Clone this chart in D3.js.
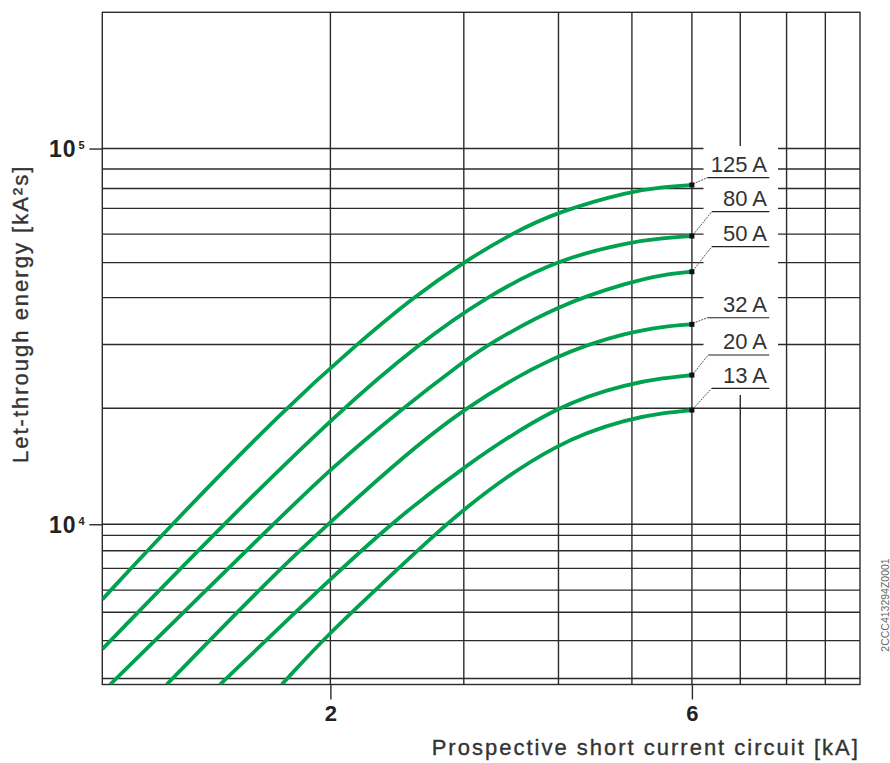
<!DOCTYPE html>
<html>
<head>
<meta charset="utf-8">
<script src="https://cdn.jsdelivr.net/npm/d3@7"></script>
<style>
  html, body { margin: 0; padding: 0; background: #ffffff; }
  svg { display: block; }
</style>
</head>
<body>
<svg id="chart" width="890" height="763"></svg>
<script>
// ---------------- DATA ----------------
const ratings = ["125 A", "80 A", "50 A", "32 A", "20 A", "13 A"];

const current125 = [1.0, 1.235, 1.742, 2.167, 2.573, 2.995, 3.471, 3.991, 4.982, 5.5, 6.0];
const energy125  = [6310, 10000, 20340, 30120, 40180, 49780, 59470, 67880, 77070, 79020, 80000];

const current80 = [1.0, 1.444, 2.07, 2.612, 3.199, 3.998, 4.982, 5.5, 6.0];
const energy80  = [4650, 10000, 20290, 30120, 40180, 50800, 56480, 57800, 58500];

const current50 = [1.024, 1.681, 1.992, 2.484, 2.995, 3.232, 3.998, 4.982, 5.5, 6.0];
const energy50  = [3745, 10000, 13940, 20290, 27080, 30120, 38320, 44200, 46200, 47000];

const current32 = [1.216, 1.725, 1.992, 2.41, 2.981, 3.998, 4.982, 5.5, 6.0];
const energy32  = [3745, 7707, 10055, 14230, 20290, 28610, 32540, 33600, 34050];

const current20 = [1.43, 1.992, 2.397, 2.995, 3.998, 4.982, 5.5, 6.0];
const energy20  = [3745, 7103, 10000, 14230, 20890, 23720, 24500, 24950];

const current13 = [1.725, 1.992, 2.397, 2.995, 3.998, 4.982, 5.5, 6.0];
const energy13  = [3745, 5134, 7250, 11120, 16680, 19140, 19780, 20130];

// energy level of each label's underline
const labelEnergies = [83630, 67900, 54800, 35450, 28220, 23010];

// axes / grid
const xDomain = [1, 10];
const yDomain = [3745, 230500];
const gridCurrents = [2, 3, 4, 5, 6, 6.95, 8, 9];
const gridEnergies = [100000, 88200, 78300, 69300, 59200, 49700, 40100, 30100, 20350,
                      10000, 9340, 8500, 7630, 6680, 5830, 4900, 3885];
const xTickValues = [2, 6];
const xTickLabels = ["2", "6"];
const yTickValues = [10000, 100000];
const yTickBase = ["10", "10"];
const yTickExponents = ["4", "5"];

const xTitle = "Prospective short current circuit [kA]";
const yTitle = "Let-through energy [kA²s]";
const docCode = "2CCC413294Z0001";

// ---------------- DRAWING ----------------
const svg = d3.select("#chart");
const W = 890, H = 763;
const plot = { left: 102.3, right: 860, top: 12.3, bottom: 684.5 };

const x = d3.scaleLog().domain(xDomain).range([plot.left, plot.right]);
const y = d3.scaleLog().domain(yDomain).range([plot.bottom, plot.top]);

const gridColor = "#2b2b2b";
const green = "#00a24f";
const fontFam = "'Liberation Sans', Arial, Helvetica, sans-serif";

svg.append("rect").attr("width", W).attr("height", H).attr("fill", "#fff");

// grid
const grid = svg.append("g").attr("stroke", gridColor).attr("stroke-width", 1.4).attr("fill", "none");
grid.selectAll("line.v").data(gridCurrents).join("line")
  .attr("class", "v")
  .attr("x1", d => x(d)).attr("x2", d => x(d))
  .attr("y1", plot.top).attr("y2", plot.bottom);
grid.selectAll("line.h").data(gridEnergies).join("line")
  .attr("class", "h")
  .attr("x1", plot.left).attr("x2", plot.right)
  .attr("y1", d => y(d)).attr("y2", d => y(d));
grid.append("rect")
  .attr("x", plot.left).attr("y", plot.top)
  .attr("width", plot.right - plot.left).attr("height", plot.bottom - plot.top);

// white area behind labels (grid interrupted)
svg.append("rect")
  .attr("x", 703.5).attr("y", 146).attr("width", 74.5).attr("height", 249)
  .attr("fill", "#fff");

// axes ticks
const xAxis = d3.axisBottom(x).tickValues(xTickValues).tickSize(15).tickPadding(6)
  .tickFormat((d, i) => xTickLabels[i]);
const gx = svg.append("g").attr("transform", `translate(0,${plot.bottom})`).call(xAxis);
gx.select(".domain").remove();
gx.selectAll(".tick line").attr("stroke", gridColor).attr("stroke-width", 1.4);
gx.selectAll(".tick text")
  .attr("font-family", fontFam)
  .attr("font-size", 22).attr("font-weight", "bold").attr("fill", "#222")
  .attr("dy", "0.71em");

const yAxis = d3.axisLeft(y).tickValues(yTickValues).tickSize(13).tickFormat("");
const gy = svg.append("g").attr("transform", `translate(${plot.left},0)`).call(yAxis);
gy.select(".domain").remove();
gy.selectAll(".tick line").attr("stroke", gridColor).attr("stroke-width", 1.4);
const yLab = svg.append("g")
  .attr("font-family", fontFam)
  .attr("font-weight", "bold").attr("fill", "#222");
yTickValues.forEach((v, i) => {
  yLab.append("text").attr("x", 49).attr("y", y(v) + 8.5)
    .attr("font-size", 23).attr("letter-spacing", 1).text(yTickBase[i]);
  yLab.append("text").attr("x", 78.5).attr("y", y(v) + 0.5)
    .attr("font-size", 11).text(yTickExponents[i]);
});

// curves
const series = [
  { c: current125, e: energy125 },
  { c: current80,  e: energy80 },
  { c: current50,  e: energy50 },
  { c: current32,  e: energy32 },
  { c: current20,  e: energy20 },
  { c: current13,  e: energy13 }
];
svg.append("clipPath").attr("id", "clip").append("rect")
  .attr("x", plot.left).attr("y", plot.top)
  .attr("width", plot.right - plot.left).attr("height", plot.bottom - plot.top);

const line = d3.line()
  .x(d => x(d[0])).y(d => y(d[1]))
  .curve(d3.curveBasis);

svg.append("g").attr("clip-path", "url(#clip)")
  .selectAll("path").data(series).join("path")
  .attr("d", s => line(s.c.map((c, i) => [c, s.e[i]])))
  .attr("fill", "none").attr("stroke", green).attr("stroke-width", 3.8)
  .attr("stroke-linecap", "butt");

// markers, leaders, labels
const ann = svg.append("g");
const underlineStart = [707.3, 711.7, 711.7, 707.3, 708.3, 711.7];
series.forEach((s, i) => {
  const lastC = s.c[s.c.length - 1], lastE = s.e[s.e.length - 1];
  const mx = x(lastC), my = y(lastE);
  const ly = y(labelEnergies[i]);
  ann.append("line")
    .attr("x1", mx + 1).attr("y1", my - 1)
    .attr("x2", underlineStart[i]).attr("y2", ly)
    .attr("stroke", "#555").attr("stroke-width", 1).attr("stroke-dasharray", "2,1");
  ann.append("line")
    .attr("x1", underlineStart[i]).attr("x2", 769.3)
    .attr("y1", ly).attr("y2", ly)
    .attr("stroke", "#222").attr("stroke-width", 1.2);
  ann.append("rect")
    .attr("x", mx - 2.5).attr("y", my - 2.5).attr("width", 5).attr("height", 5)
    .attr("fill", "#111");
  ann.append("text")
    .attr("x", 767).attr("y", ly - 5.5)
    .attr("text-anchor", "end")
    .attr("font-family", fontFam)
    .attr("font-size", 22).attr("fill", "#333")
    .text(ratings[i]);
});

// axis titles
svg.append("text")
  .attr("x", 431.7).attr("y", 755)
  .attr("text-anchor", "start")
  .attr("font-family", fontFam)
  .attr("font-size", 22).attr("letter-spacing", 2).attr("fill", "#333")
  .attr("stroke", "#333").attr("stroke-width", 0.35)
  .text(xTitle);

svg.append("text")
  .attr("transform", "translate(28,463) rotate(-90)")
  .attr("text-anchor", "start")
  .attr("font-family", fontFam)
  .attr("font-size", 22).attr("letter-spacing", 2).attr("fill", "#333")
  .attr("stroke", "#333").attr("stroke-width", 0.35)
  .text(yTitle);

svg.append("text")
  .attr("transform", "translate(889,605) rotate(-90)")
  .attr("text-anchor", "middle")
  .attr("font-family", fontFam)
  .attr("font-size", 10.5).attr("fill", "#666")
  .text(docCode);
</script>
</body>
</html>
